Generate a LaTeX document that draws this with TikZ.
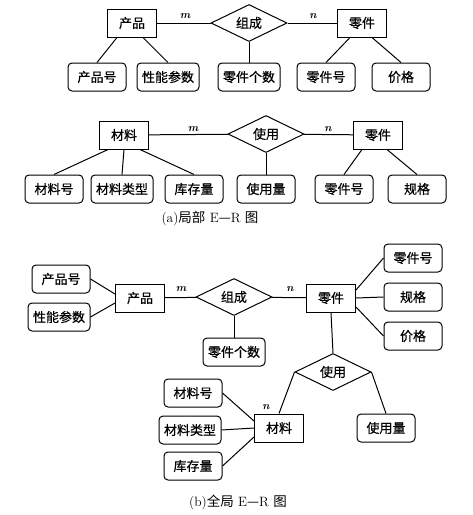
\documentclass[tikz,border=0pt]{standalone}
\usepackage{fontspec}
\newfontfamily\cjk{Noto Sans CJK SC}
\newfontfamily\cjkbox[FakeBold=0.6]{Noto Sans CJK SC}
\usetikzlibrary{shapes.geometric}

\begin{document}
\begin{tikzpicture}[x=1pt,y=-1pt,line width=1pt,
	ent/.style={draw,rectangle,minimum width=49pt,minimum height=28pt,inner sep=2pt,font=\cjkbox\fontsize{13}{13}\selectfont},
	attr/.style={draw,rounded corners=4pt,minimum width=58pt,minimum height=28pt,inner xsep=5pt,inner ysep=2pt,font=\cjkbox\fontsize{13}{13}\selectfont},
	rel/.style={draw,diamond,aspect=2,minimum width=76pt,minimum height=37pt,inner sep=0pt,font=\cjkbox\fontsize{13}{13}\selectfont},
	card/.style={font=\bfseries\itshape\fontsize{11}{11}\selectfont},
	capt/.style={font=\fontsize{13.5}{13.5}\selectfont}]
	\useasboundingbox (0,0) rectangle (473,515);
	
	%(a) part one: product - part
	\node[ent]  (cp1)   at (132,23) {产品};
	\node[rel]  (zc1)   at (249,23) {组成};
	\node[ent]  (lj1)   at (362,23) {零件};
	\node[attr] (cph1)  at (97,77)  {产品号};
	\node[attr] (xn1)   at (168,77) {性能参数};
	\node[attr] (ljgs1) at (249,77) {零件个数};
	\node[attr] (ljh1)  at (326,77) {零件号};
	\node[attr] (jg1)   at (401,77) {价格};
	\node[card] (m1)    at (185,16) {m};
	\node[card] (n1)    at (313,16) {n};
	\draw (cp1) -- (zc1) -- (lj1);
	\draw ([xshift=-15pt]cp1.south) -- (cph1.north);
	\draw ([xshift=11pt]cp1.south) -- (xn1.north);
	\draw (zc1.south) -- (ljgs1.north);
	\draw ([xshift=-12pt]lj1.south) -- (ljh1.north);
	\draw ([xshift=10pt]lj1.south) -- (jg1.north);
	
	%(a) part two: material - part
	\node[ent]  (cl2)   at (124,135) {材料};
	\node[rel]  (sy2)   at (266,134) {使用};
	\node[ent]  (lj2)   at (378,135) {零件};
	\node[attr] (clh2)  at (54,189)  {材料号};
	\node[attr] (cllx2) at (122,189) {材料类型};
	\node[attr] (kcl2)  at (194,189) {库存量};
	\node[attr] (syl2)  at (266,189) {使用量};
	\node[attr] (ljh2)  at (344,189) {零件号};
	\node[attr] (gg2)   at (417,189) {规格};
	\node[card] (m2)    at (193,129) {m};
	\node[card] (n2)    at (328,129) {n};
	\draw (cl2) -- (sy2) -- (lj2);
	\draw ([xshift=-16pt]cl2.south) -- (clh2.north);
	\draw (cl2.south) -- (cllx2.north);
	\draw ([xshift=16pt]cl2.south) -- (kcl2.north);
	\draw (sy2.south) -- (syl2.north);
	\draw ([xshift=-16pt]lj2.south) -- (ljh2.north);
	\draw ([xshift=9pt]lj2.south) -- (gg2.north);
	\node[capt] (capa) at (210,218) {(a){\cjk 局部} E{\cjk —}R {\cjk 图}};
	
	%(b) global diagram
	\node[ent]  (cp3)   at (140,298) {产品};
	\node[rel]  (zc3)   at (234,297) {组成};
	\node[ent]  (lj3)   at (331,298) {零件};
	\node[attr] (cph3)  at (61,279)  {产品号};
	\node[attr] (xn3)   at (59,317)  {性能参数};
	\node[attr] (ljgs3) at (234,352) {零件个数};
	\node[attr] (ljh3)  at (413,258) {零件号};
	\node[attr] (gg3)   at (413,297) {规格};
	\node[attr] (jg3)   at (413,336) {价格};
	\node[rel]  (sy3)   at (333,372) {使用};
	\node[ent]  (cl3)   at (279,428) {材料};
	\node[attr] (syl3)  at (386,428) {使用量};
	\node[attr] (clh3)  at (193,393) {材料号};
	\node[attr] (cllx3) at (190,430) {材料类型};
	\node[attr] (kcl3)  at (193,466) {库存量};
	\node[card] (m3)    at (181,289) {m};
	\node[card] (n3)    at (290,289) {n};
	\node[card] (n4)    at (266,407) {n};
	\draw (cp3) -- (zc3) -- (lj3);
	\draw (cph3.east) -- ([yshift=4pt]cp3.west);
	\draw (xn3.east) -- ([yshift=-5pt]cp3.west);
	\draw (zc3.south) -- (ljgs3.north);
	\draw ([yshift=8pt]lj3.east) -- (ljh3.west);
	\draw (lj3.east) -- (gg3.west);
	\draw ([yshift=-9pt]lj3.east) -- (jg3.west);
	\draw (lj3.south) -- (sy3.north);
	\draw (sy3.west) -- (cl3.north);
	\draw (sy3.east) -- (syl3.north);
	\draw (clh3.east) -- ([yshift=7pt]cl3.west);
	\draw (cllx3.east) -- (cl3.west);
	\draw (kcl3.east) -- ([yshift=-9pt]cl3.west);
	\node[capt] (capb) at (238,502) {(b){\cjk 全局} E{\cjk —}R {\cjk 图}};
	
\end{tikzpicture}
\end{document}
